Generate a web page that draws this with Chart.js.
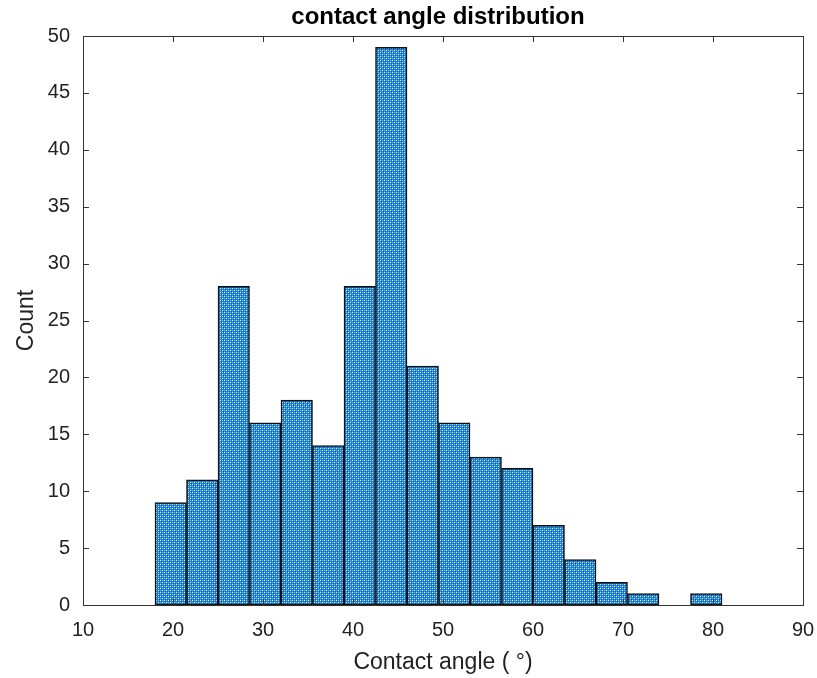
<!DOCTYPE html>
<html>
<head>
<meta charset="utf-8">
<script src="https://cdn.jsdelivr.net/npm/chart.js@4.4.0/dist/chart.umd.min.js"></script>
<style>
  html, body { margin: 0; padding: 0; background: #fff; }
</style>
</head>
<body>
<canvas id="chart" width="817" height="678"></canvas>
<script>
// histogram bins (centres, width 3.5) and counts
const binCenters = [19.75, 23.25, 26.75, 30.25, 33.75, 37.25, 40.75, 44.25, 47.75,
                    51.25, 54.75, 58.25, 61.75, 65.25, 68.75, 72.25, 75.75, 79.25];
const counts = [9, 11, 28, 16, 18, 14, 28, 49, 21, 16, 13, 12, 7, 4, 2, 1, 0, 1];
const xTicks = [10, 20, 30, 40, 50, 60, 70, 80, 90];
const yTicks = [0, 5, 10, 15, 20, 25, 30, 35, 40, 45, 50];

const FONT = "'Liberation Sans', Arial, sans-serif";

// checkered blue fill like the original hatch
function makePattern() {
  const c = document.createElement('canvas');
  c.width = 4; c.height = 4;
  const g = c.getContext('2d');
  g.fillStyle = '#1f82d2';
  g.fillRect(0, 0, 4, 4);
  g.fillStyle = '#dff1fd';
  g.fillRect(0, 0, 1, 1);
  g.fillRect(2, 2, 1, 1);
  g.fillStyle = '#6cb7ea';
  g.fillRect(2, 0, 1, 1);
  g.fillRect(0, 2, 1, 1);
  g.fillStyle = '#0c5fb2';
  g.fillRect(1, 1, 1, 1);
  g.fillRect(3, 3, 1, 1);
  return g.createPattern(c, 'repeat');
}

// frame + inward ticks, title centred over the plot
const frame = {
  id: 'frame',
  afterDraw(chart) {
    const { ctx, chartArea: a, scales } = chart;
    ctx.save();
    ctx.strokeStyle = '#333';
    ctx.lineWidth = 1;
    ctx.strokeRect(Math.round(a.left) + 0.5, Math.round(a.top) + 0.5,
                   Math.round(a.right - a.left), Math.round(a.bottom - a.top));
    ctx.beginPath();
    scales.x.ticks.forEach(t => {
      const px = Math.round(scales.x.getPixelForValue(t.value)) + 0.5;
      ctx.moveTo(px, a.bottom); ctx.lineTo(px, a.bottom - 6);
      ctx.moveTo(px, a.top); ctx.lineTo(px, a.top + 6);
    });
    scales.y.ticks.forEach(t => {
      const py = Math.round(scales.y.getPixelForValue(t.value)) + 0.5;
      ctx.moveTo(a.left, py); ctx.lineTo(a.left + 6, py);
      ctx.moveTo(a.right, py); ctx.lineTo(a.right - 6, py);
    });
    ctx.stroke();
    ctx.fillStyle = '#000';
    ctx.font = 'bold 24px ' + FONT;
    ctx.textAlign = 'center';
    ctx.textBaseline = 'middle';
    ctx.fillText('contact angle distribution', (a.left + a.right) / 2 - 5, 17);
    ctx.restore();
  }
};

const ctx = document.getElementById('chart').getContext('2d');
new Chart(ctx, {
  type: 'bar',
  data: {
    datasets: [{
      data: binCenters.map((x, i) => ({ x: x, y: counts[i] })),
      backgroundColor: makePattern(),
      borderColor: '#111',
      borderWidth: 1.5,
      borderSkipped: false,
      barPercentage: 1,
      categoryPercentage: 1,
      grouped: false
    }]
  },
  options: {
    responsive: false,
    animation: false,
    layout: { padding: { top: 36, right: 0, left: 0, bottom: 0 } },
    plugins: { legend: { display: false }, tooltip: { enabled: false } },
    scales: {
      x: {
        type: 'linear',
        offset: false,
        min: 10, max: 90,
        afterBuildTicks: s => { s.ticks = xTicks.map(v => ({ value: v })); },
        afterFit: s => { s.height = 73; s.paddingRight = 14; s.paddingLeft = 0; },
        grid: { display: false, drawTicks: false },
        border: { display: false },
        ticks: { color: '#222', font: { family: FONT, size: 20 }, padding: 13 },
        title: { display: true, text: 'Contact angle ( °)', color: '#222',
                 font: { family: FONT, size: 23 }, padding: { top: 8, bottom: 2 } }
      },
      y: {
        min: 0, max: 50,
        afterBuildTicks: s => { s.ticks = yTicks.map(v => ({ value: v })); },
        afterFit: s => { s.width = 83; },
        grid: { display: false, drawTicks: false },
        border: { display: false },
        ticks: { color: '#222', font: { family: FONT, size: 20 }, padding: 13 },
        title: { display: true, text: 'Count', color: '#222',
                 font: { family: FONT, size: 23 }, padding: { top: 13, bottom: 0 } }
      }
    }
  },
  plugins: [frame]
});
</script>
</body>
</html>
